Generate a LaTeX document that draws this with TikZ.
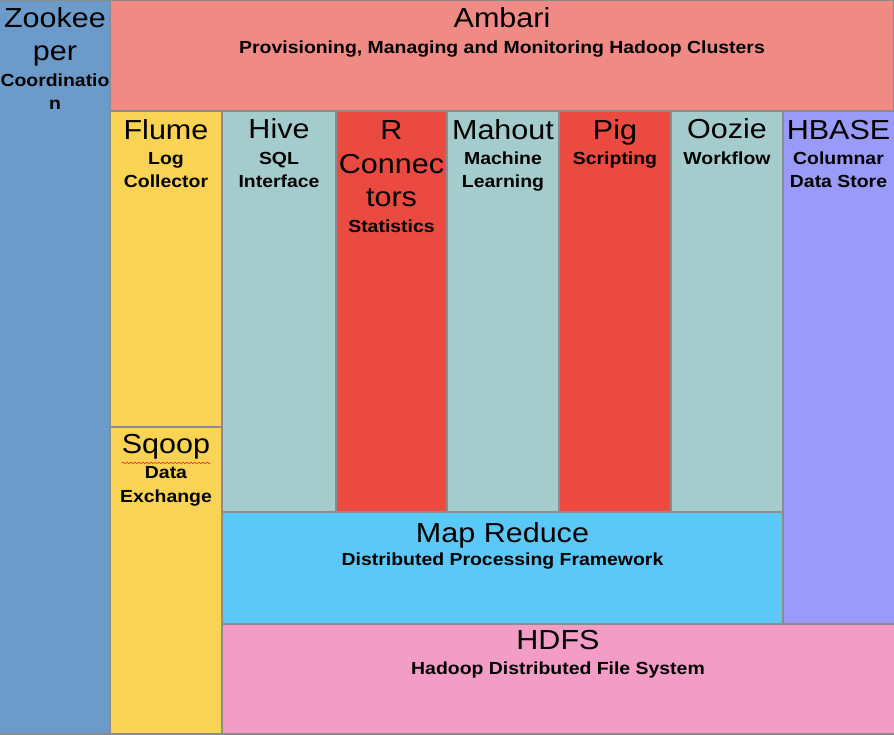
\documentclass[tikz,border=0pt]{standalone}
\usepackage{fontspec}
\setmainfont{Liberation Sans}
\newfontfamily\stretchfont[FakeStretch=1.11]{Liberation Sans}
\usetikzlibrary{decorations.pathmorphing}
\definecolor{zkblue}{HTML}{6D9BC9}
\definecolor{ambsalmon}{HTML}{F08A84}
\definecolor{flyellow}{HTML}{F9D353}
\definecolor{tealgray}{HTML}{A5CCCC}
\definecolor{brightred}{HTML}{EA4A40}
\definecolor{lavblue}{HTML}{9A9AF8}
\definecolor{skyblue}{HTML}{5BC8F8}
\definecolor{pinkish}{HTML}{F29CC6}
\definecolor{edgegray}{HTML}{8C8C8C}
\definecolor{spellred}{HTML}{E23A3A}
\tikzset{
  blk/.style={draw=edgegray, line width=1.6pt, inner sep=0pt, outer sep=0pt, anchor=north west},
  ttl/.style={anchor=base, inner sep=0pt, font=\stretchfont\fontsize{27.5}{32}\selectfont},
  sub/.style={anchor=base, inner sep=0pt, font=\stretchfont\bfseries\fontsize{17.5}{22}\selectfont},
}
\begin{document}
\begin{tikzpicture}[x=1pt,y=-1pt]
\useasboundingbox (0,0) rectangle (894,734);
\clip (0,0) rectangle (894,734);
% blocks
\node[blk, fill=zkblue, minimum width=113pt, minimum height=734pt] (zk) at (-3,0) {};
\node[blk, fill=ambsalmon, minimum width=784pt, minimum height=111pt] (amb) at (110,0) {};
\node[blk, fill=flyellow, minimum width=112pt, minimum height=316pt] (flume) at (110,111) {};
\node[blk, fill=flyellow, minimum width=112pt, minimum height=307pt] (sqoop) at (110,427) {};
\node[blk, fill=tealgray, minimum width=114pt, minimum height=401pt] (hive) at (222,111) {};
\node[blk, fill=brightred, minimum width=111pt, minimum height=401pt] (rconn) at (336,111) {};
\node[blk, fill=tealgray, minimum width=112pt, minimum height=401pt] (mahout) at (447,111) {};
\node[blk, fill=brightred, minimum width=112pt, minimum height=401pt] (pig) at (559,111) {};
\node[blk, fill=tealgray, minimum width=112pt, minimum height=401pt] (oozie) at (671,111) {};
\node[blk, fill=lavblue, minimum width=114pt, minimum height=513pt] (hbase) at (783,111) {};
\node[blk, fill=skyblue, minimum width=561pt, minimum height=112pt] (mr) at (222,512) {};
\node[blk, fill=pinkish, minimum width=675pt, minimum height=110pt] (hdfs) at (222,624) {};
% Zookeeper
\node[ttl] (zk1) at (55,27) {Zookee};
\node[ttl] (zk2) at (55,60) {per};
\node[sub] (zk3) at (55,86) {Coordinatio};
\node[sub] (zk4) at (55,109) {n};
% Ambari
\node[ttl] (amb1) at (502,27) {Ambari};
\node[sub] (amb2) at (502,53) {Provisioning, Managing and Monitoring Hadoop Clusters};
% Flume
\node[ttl] (fl1) at (166,139) {Flume};
\node[sub] (fl2) at (166,164) {Log};
\node[sub] (fl3) at (166,187) {Collector};
% Sqoop
\node[ttl] (sq1) at (166,453) {Sqoop};
\node[sub] (sq2) at (166,478) {Data};
\node[sub] (sq3) at (166,502) {Exchange};
\draw[spellred, line width=0.7pt, decorate, decoration={snake, amplitude=0.8pt, segment length=4pt}] (sq1.south west) ++(0,4) coordinate (sqa) -- (sq1.south east |- sqa);
% Hive
\node[ttl] (hv1) at (279,138) {Hive};
\node[sub] (hv2) at (279,164) {SQL};
\node[sub] (hv3) at (279,187) {Interface};
% R Connectors
\node[ttl] (rc1) at (391.5,139) {R};
\node[ttl] (rc2) at (391.5,173) {Connec};
\node[ttl] (rc3) at (391.5,206) {tors};
\node[sub] (rc4) at (391.5,232) {Statistics};
% Mahout
\node[ttl] (mh1) at (503,139) {Mahout};
\node[sub] (mh2) at (503,164) {Machine};
\node[sub] (mh3) at (503,187) {Learning};
% Pig
\node[ttl] (pg1) at (615,139) {Pig};
\node[sub] (pg2) at (615,164) {Scripting};
% Oozie
\node[ttl] (oz1) at (727,138) {Oozie};
\node[sub] (oz2) at (727,164) {Workflow};
% HBASE
\node[ttl] (hb1) at (838.5,139) {HBASE};
\node[sub] (hb2) at (838.5,164) {Columnar};
\node[sub] (hb3) at (838.5,187) {Data Store};
% Map Reduce
\node[ttl] (mr1) at (502.5,542) {Map Reduce};
\node[sub] (mr2) at (502.5,565) {Distributed Processing Framework};
% HDFS
\node[ttl] (hd1) at (558,649) {HDFS};
\node[sub] (hd2) at (558,674) {Hadoop Distributed File System};
\end{tikzpicture}
\end{document}
